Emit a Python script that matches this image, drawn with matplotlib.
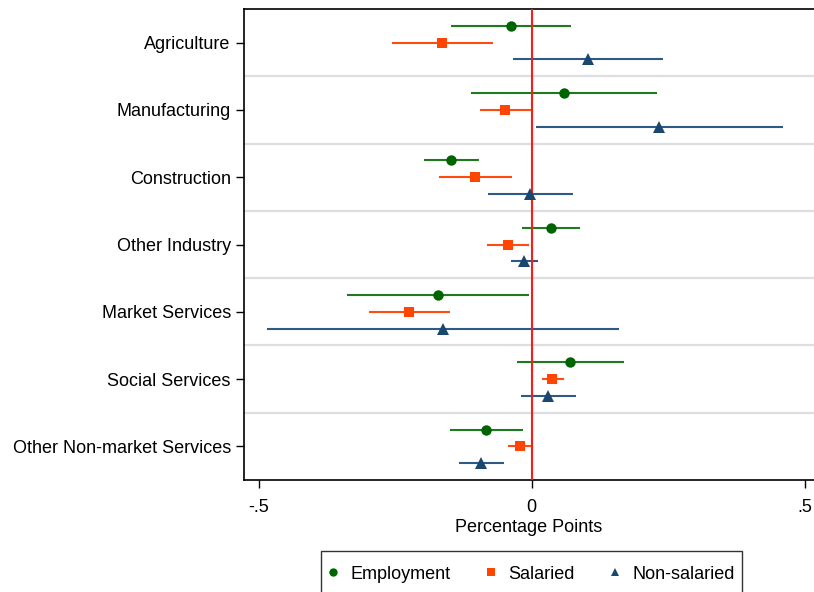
import matplotlib
matplotlib.use("Agg")
import matplotlib.pyplot as plt
from matplotlib.lines import Line2D
from matplotlib.legend_handler import HandlerLine2D

plt.rcParams['font.family'] = ['Liberation Sans', 'DejaVu Sans']

sectors = ["Agriculture", "Manufacturing", "Construction", "Other Industry",
           "Market Services", "Social Services", "Other Non-market Services"]

emp_coef = [-0.0375, 0.0595, -0.147, 0.0355, -0.171, 0.071, -0.083]
emp_lo = [-0.147, -0.110, -0.197, -0.017, -0.338, -0.026, -0.150]
emp_hi = [0.072, 0.230, -0.097, 0.088, -0.005, 0.169, -0.015]

sal_coef = [-0.164, -0.048, -0.103, -0.0435, -0.224, 0.038, -0.021]
sal_lo = [-0.256, -0.094, -0.170, -0.081, -0.297, 0.019, -0.043]
sal_hi = [-0.071, -0.001, -0.0355, -0.005, -0.149, 0.059, 0.0]

non_coef = [0.104, 0.234, -0.002, -0.014, -0.163, 0.030, -0.092]
non_lo = [-0.033, 0.008, -0.080, -0.038, -0.485, -0.020, -0.133]
non_hi = [0.240, 0.460, 0.076, 0.011, 0.161, 0.081, -0.050]

xticks = [-0.5, 0, 0.5]
xtick_labels = ["-.5", "0", ".5"]


class TextCenteredMarker(HandlerLine2D):
    """Legend marker placed level with the middle of the label's capitals."""

    def create_artists(self, legend, orig_handle, xdescent, ydescent,
                       width, height, fontsize, trans):
        artists = super().create_artists(legend, orig_handle, xdescent,
                                         ydescent, width, height, fontsize,
                                         trans)
        for a in artists:
            a.set_ydata([0.36 * fontsize] * len(a.get_xdata()))
        return artists


fig = plt.figure(figsize=(8.14, 5.92), dpi=100)
ax = fig.add_axes([244 / 814, 1 - 480 / 592, 1 - 244 / 814, (480 - 9) / 592])

series = [
    ("Employment", emp_coef, emp_lo, emp_hi, -0.25, "o", "#006400", "#1f7a1f", 7.5),
    ("Salaried", sal_coef, sal_lo, sal_hi, 0.0, "s", "#ff4500", "#ff4a10", 7.5),
    ("Non-salaried", non_coef, non_lo, non_hi, 0.25, "^", "#1a476f", "#2f5a85", 8),
]

pos = list(range(len(sectors)))

# separators between sectors
for k in range(len(sectors) - 1):
    ax.axhline(k + 0.5, color="#dedede", lw=1.6, zorder=1)

handles = []
for name, coef, lo, hi, off, mk, mcol, lcol, ms in series:
    y = [p + off for p in pos]
    ax.hlines(y, lo, hi, color=lcol, lw=1.5, zorder=2)
    ax.plot(coef, y, linestyle="none", marker=mk, color=mcol, ms=ms,
            markeredgewidth=0, zorder=4)
    handles.append(Line2D([], [], linestyle="none", marker=mk, color=mcol,
                          ms=ms * 0.8, markeredgewidth=0, label=name))

ax.axvline(0, color="#ff1a1a", lw=1.5, zorder=3)

ax.set_ylim(len(sectors) - 0.5, -0.5)
ax.set_xlim((244 - 531.5) / 546, (814 - 531.5) / 546)

ax.set_yticks(pos)
ax.set_yticklabels(sectors, fontsize=13)
ax.set_xticks(xticks)
ax.set_xticklabels(xtick_labels, fontsize=13)
ax.tick_params(axis="both", direction="out", length=5.5, width=1)
ax.tick_params(axis="y", pad=4)
ax.tick_params(axis="x", pad=8)
ax.set_xlabel("Percentage Points", fontsize=13, labelpad=2)

for s in ["left", "bottom", "top"]:
    ax.spines[s].set_linewidth(1.2)
    ax.spines[s].set_color("black")
ax.spines["right"].set_visible(False)

leg = fig.legend(handles=handles, loc="upper center", ncol=3,
                 bbox_to_anchor=(531.5 / 814, 1 - 551 / 592),
                 borderaxespad=0,
                 fontsize=13, frameon=True, fancybox=False,
                 handlelength=0.55, handleheight=2.2, handletextpad=0.65,
                 columnspacing=2.0, borderpad=0.4,
                 handler_map={Line2D: TextCenteredMarker()})
leg.get_frame().set_edgecolor("black")
leg.get_frame().set_linewidth(1.0)

fig.savefig("out.png", dpi=100)
